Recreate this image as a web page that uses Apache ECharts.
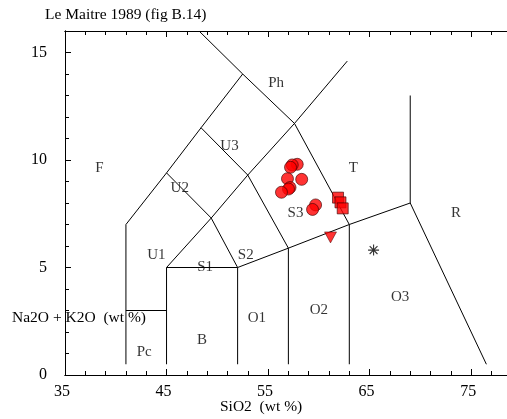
<!DOCTYPE html>
<html>
<head>
<meta charset="utf-8">
<script src="https://cdn.jsdelivr.net/npm/echarts@6/dist/echarts.min.js"></script>
<style>
html,body{margin:0;padding:0;background:#fff;}
#chart{width:507px;height:419px;}
</style>
</head>
<body>
<div id="chart"></div>
<script>
// ---- Data ----
const xMin = 35, xMax = 78.53, yMin = 0, yMax = 16;
const xTickLabels = [35, 45, 55, 65, 75];
const yTickLabels = [0, 5, 10, 15];

// TAS boundary polylines (SiO2, Na2O+K2O)
const boundaryF = [[41,0.5],[41,7],[45,9.4],[48.4,11.5],[52.5,14]];
const boundaryPh = [[48.2,16],[52.5,14],[57.6,11.7],[63,7],[63,0.5]];
const boundaryPc = [[41,3],[45,3]];
const boundaryBasalt = [[45,0.5],[45,5],[49.4,7.3],[53,9.3],[57.6,11.7],[62.8,14.6]];
const boundaryLower = [[45,5],[52,5],[57,5.9],[63,7],[69,8],[76.5,0.5]];
const boundary52 = [[52,0.5],[52,5]];
const boundary57 = [[57,0.5],[57,5.9]];
const boundary69 = [[69,8],[69,13]];
const boundaryU1U2 = [[45,9.4],[49.4,7.3],[52,5]];
const boundaryU2U3 = [[48.4,11.5],[53,9.3],[57,5.9]];
const boundaries = [boundaryF, boundaryPh, boundaryPc, boundaryBasalt, boundaryLower,
  boundary52, boundary57, boundary69, boundaryU1U2, boundaryU2U3];

// Field names
const fieldNames = ['F','U1','U2','U3','Ph','S1','S2','S3','T','R','O1','O2','O3','B','Pc'];
const fieldX = [38.4,44.0,46.3,51.2,55.8,48.8,52.8,57.7,63.4,73.5,53.9,60.0,68.0,48.5,42.8];
const fieldY = [9.63,5.58,8.70,10.65,13.6,5.04,5.58,7.53,9.63,7.53,2.65,3.02,3.63,1.63,1.08];

// Samples
const circleSiO2 = [57.87,57.38,57.21,58.31,56.91,57.16,57.01,56.32,59.68,59.38];
const circleAlk  = [9.80,9.77,9.66,9.10,9.13,8.72,8.65,8.50,7.91,7.70];
const squareSiO2 = [61.89,62.13,62.35];
const squareAlk  = [8.25,8.03,7.75];
const triangleSiO2 = [61.15];
const triangleAlk  = [6.40];
const starSiO2 = [65.39];
const starAlk  = [5.81];

// ---- Chart ----
const FONT = '"Liberation Serif", "Times New Roman", serif';
const chart = echarts.init(document.getElementById('chart'), null, {renderer:'canvas'});
const zip = (a,b) => a.map((v,i)=>[v,b[i]]);
const span = xMax - xMin;

function offAxis(pos, interval, len, labels) {
  return {
    type:'value', position:pos, min:0, max:span, interval:interval,
    axisLine:{show:true, lineStyle:{color:'#000', width:1}},
    axisTick:{show:true, inside:true, length:len, lineStyle:{color:'#000', width:1}},
    axisLabel:{show:labels, color:'#000', fontFamily:FONT, fontSize:16, margin:9,
      showMaxLabel:false, padding:[0,6,0,0],
      formatter: v => (Math.abs(v % 10) < 1e-6 ? String(v + xMin) : '')},
    splitLine:{show:false}
  };
}
function yAx(interval, len, labels) {
  return {
    type:'value', position:'left', min:yMin, max:yMax, interval:interval,
    axisLine:{show:true, lineStyle:{color:'#000', width:1}},
    axisTick:{show:true, inside:true, length:len, lineStyle:{color:'#000', width:1}},
    axisLabel:{show:labels, color:'#000', fontFamily:FONT, fontSize:16, margin:18, showMaxLabel:false},
    splitLine:{show:false}
  };
}

const series = [];
boundaries.forEach(b => series.push({
  type:'line', xAxisIndex:0, yAxisIndex:0, data:b, symbol:'none', silent:true,
  lineStyle:{color:'#000', width:1}, z:2
}));
series.push({
  type:'scatter', xAxisIndex:0, yAxisIndex:0, symbolSize:0, silent:true,
  data: fieldNames.map((n,i)=>({name:n, value:[fieldX[i], fieldY[i]]})),
  label:{show:true, position:'inside', formatter:p=>p.name, color:'#000', fontFamily:FONT, fontSize:15},
  z:3
});
const redStyle = {color:'#ff0000', borderColor:'#3a0000', borderWidth:0.8};
series.push({type:'scatter', data:zip(circleSiO2, circleAlk), symbol:'circle', symbolSize:12, itemStyle:redStyle, z:5});
series.push({type:'scatter', data:zip(squareSiO2, squareAlk), symbol:'rect', symbolSize:11, itemStyle:redStyle, z:5});
series.push({type:'scatter', data:zip(triangleSiO2, triangleAlk), symbol:'triangle', symbolRotate:180, symbolSize:[12,11], itemStyle:{color:'#ff0000', borderColor:'#3a0000', borderWidth:0.6}, z:5});
series.push({type:'scatter', data:zip(starSiO2, starAlk),
  symbol:'path://M-0.5,-5 L0.5,-5 L0.5,5 L-0.5,5 Z M-5,-0.5 L5,-0.5 L5,0.5 L-5,0.5 Z M-3.9,-3.2 L-3.2,-3.9 L3.9,3.2 L3.2,3.9 Z M3.2,-3.9 L3.9,-3.2 L-3.2,3.9 L-3.9,3.2 Z',
  symbolSize:11, itemStyle:{color:'#000'}, z:5});

chart.setOption({
  animation:false,
  backgroundColor:'#fff',
  grid:{left:65, top:31, width:444, height:344, containLabel:false},
  xAxis:[
    {type:'value', position:'bottom', min:xMin, max:xMax, show:false},
    offAxis('bottom', 2, 4, false),
    offAxis('bottom', 10, 6, true),
    offAxis('top', 2, 4, false),
    offAxis('top', 10, 6, false)
  ],
  yAxis:[
    yAx(1, 4, false),
    yAx(5, 6, true)
  ],
  graphic:[
    {type:'text', x:45, y:15, style:{text:'Le Maitre 1989 (fig B.14)', font:'15.5px ' + FONT, fill:'#000', verticalAlign:'middle'}},
    {type:'text', x:220, y:407, style:{text:'SiO2  (wt %)', font:'15.5px ' + FONT, fill:'#000', verticalAlign:'middle'}},
    {type:'text', x:12, y:318, z:10, style:{text:'Na2O + K2O  (wt %)', font:'15.5px ' + FONT, fill:'#000', verticalAlign:'middle'}}
  ],
  series: series
});
</script>
</body>
</html>
